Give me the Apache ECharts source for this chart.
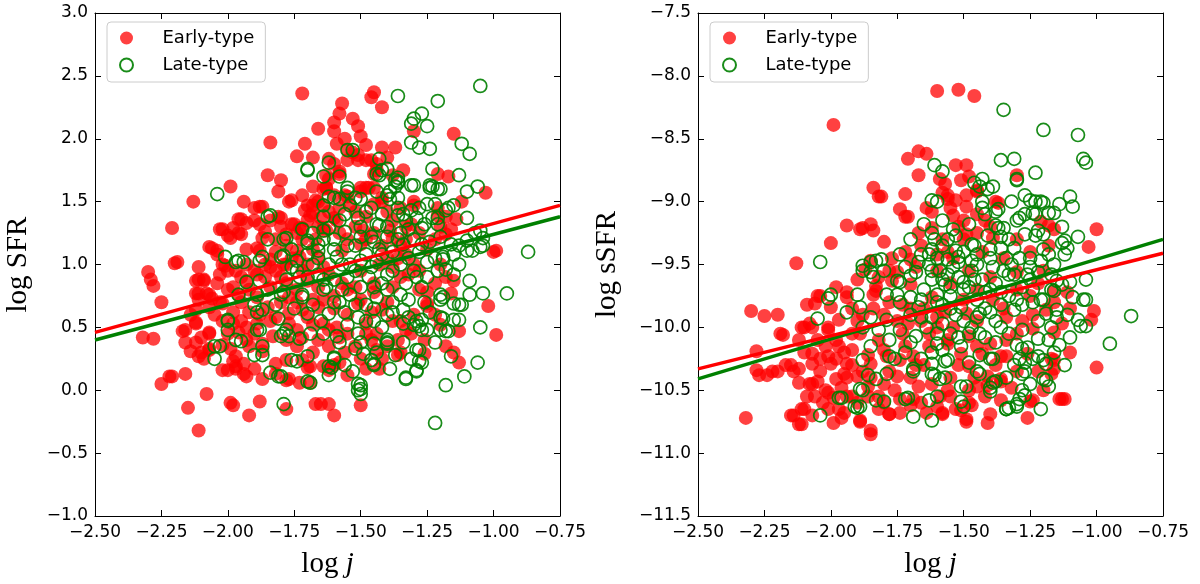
<!DOCTYPE html>
<html>
<head>
<meta charset="utf-8">
<script src="https://cdn.jsdelivr.net/npm/echarts@6/dist/echarts.min.js"></script>
<style>
html,body{margin:0;padding:0;background:#fff;}
#chart{width:1200px;height:584px;}
</style>
</head>
<body>
<div id="chart"></div>
<script>
// ---------- DATA ----------
const xTickMin = -2.5, xTickMax = -0.75, xTickStep = 0.25;
const sfrMin = -1.0, sfrMax = 3.0, ssfrMin = -11.5, ssfrMax = -7.5, yTickStep = 0.5;
const legendNames = ['Early-type', 'Late-type'];

// Left panel: log j vs log SFR
const sfrEarly = [
[-2.30,0.94],[-2.29,0.88],[-2.28,0.83],[-2.25,0.70],[-2.32,0.42],[-2.28,0.41],[-2.21,1.29],[-2.20,1.01],[-2.13,1.50],[-2.17,0.47],[-2.25,0.05],[-2.22,0.11],[-2.16,0.13],[-2.15,-0.14],[-2.11,-0.32],[-2.08,-0.03],[-1.99,-0.10],[-1.98,-0.12],[-1.92,-0.20],[-1.88,-0.09],[-1.78,-0.15],[-1.67,-0.11],[-1.62,-0.11],[-1.60,-0.20],[-1.50,-0.12],
[-1.72,2.36],[-1.45,2.37],[-1.46,2.33],[-1.42,2.25],[-1.57,2.28],[-1.58,2.20],[-1.60,2.13],[-1.53,2.16],[-1.51,2.10],[-1.50,2.02],[-1.66,2.08],[-1.84,1.97],[-1.71,1.96],[-1.59,1.96],[-1.74,1.86],[-1.68,1.85],[-1.42,1.93],[-1.37,1.93],[-1.46,1.83],[-1.30,2.06],[-1.15,2.04],[-1.21,1.72],[-1.17,1.70],[-1.12,1.50],[-1.03,1.57],[-1.00,1.10],[-0.99,1.11],[-1.02,0.67],[-0.99,0.44],[-1.13,0.47],[-1.15,0.30],[-1.13,0.22],[-1.16,0.77],[-1.15,0.87],[-1.26,0.29],[-1.31,0.45],[-1.25,0.67],[-1.35,0.30],[-1.43,0.17],[-1.48,0.17],[-1.55,0.12],[-1.62,0.16],[-1.60,0.20],[-1.70,0.18],[-1.73,0.06],[-1.78,0.08],[-1.87,0.09],[-1.93,0.11],[-2.00,0.16],[-1.97,0.17],[-2.07,0.33],[-2.10,0.30],[-2.09,0.25],[-2.07,0.46],[-2.12,0.53],[-2.12,0.38],[-2.12,0.77],[-2.11,0.88],[-2.09,0.88],[-2.08,0.77],[-2.06,0.73],[-2.03,0.70],[-2.07,1.14],[-2.04,1.11],[-2.01,0.99],[-2.00,0.95],[-2.03,1.28],[-1.98,1.29],[-1.99,1.21],[-1.96,1.36],[-1.96,1.25],[-1.94,1.50],[-1.90,1.45],[-1.87,1.46],[-1.99,1.62],[-1.85,1.71],[-1.80,1.67],[-1.81,1.58],[-1.77,1.50],[-1.81,1.38],[-1.86,1.26],[-1.84,1.35],[-1.93,1.33],[-1.89,1.13],[-1.70,1.47],[-1.74,1.25],[-1.75,1.32],[-1.68,1.41],[-1.67,1.51],[-1.64,1.60],[-1.62,1.68],[-1.58,1.72],[-1.56,1.55],[-1.50,1.58],[-1.47,1.61],[-1.45,1.72],[-1.44,1.80],[-1.51,1.83],[-1.53,1.89],
[-1.60,2.06],[-1.55,1.91],[-1.51,1.87],[-1.48,1.83],[-1.55,1.83],[-1.62,1.84],[-1.63,1.71],[-1.58,1.74],[-1.44,1.75],[-1.50,1.61],[-1.45,1.61],[-1.63,1.61],[-1.55,1.54],[-1.42,1.53],[-1.30,1.47],[-1.21,1.39],[-1.49,1.27],[-1.59,1.35],[-1.38,1.21],[-1.18,1.24],[-1.65,1.37],[-1.31,1.32],
[-1.95,1.36],[-1.88,1.32],[-2.02,1.28],[-2.00,1.23],[-1.95,1.24],[-2.06,1.13],[-2.04,1.08],[-1.93,1.12],[-1.88,1.11],[-2.19,1.02],[-1.71,1.43],[-1.66,1.50],[-1.69,1.39],[-1.64,1.47],[-1.76,1.32],[-1.72,1.29],[-1.64,1.29],[-2.02,1.00],[-1.97,0.95],[-1.93,1.00],[-1.84,0.98],[-1.79,1.00],[-1.74,1.11],[-1.66,1.06],[-1.72,0.95],
[-1.76,1.51],[-1.88,1.46],[-1.90,1.35],[-1.80,1.37],[-1.73,1.29],[-1.67,1.20],[-1.84,1.04],[-1.78,1.00],[-1.73,1.06],[-1.89,0.92],[-1.80,0.90],[-1.70,0.87],[-1.64,0.98],[-1.57,1.11],[-1.50,1.16],[-1.43,1.00],[-1.33,1.08],[-1.25,0.69],[-1.85,0.66],[-1.77,0.61],[-1.66,0.66],[-1.51,0.69],[-1.42,0.64],[-1.74,0.48],[-1.59,0.50],[-1.48,0.53],[-1.83,0.43],[-1.66,0.40],[-1.44,0.45],[-1.21,1.45],[-1.30,1.50],[-1.63,1.61],[-1.48,1.61],[-1.42,1.50],[-1.38,1.71],[-1.54,1.47],[-1.68,1.47],[-1.60,1.37],[-1.87,1.21],[-1.78,1.24],[-1.63,1.27],[-1.39,1.27],
[-2.16,0.48],[-2.12,0.54],[-2.07,0.45],[-2.21,0.11],[-2.12,0.87],[-2.09,0.87],[-2.11,0.77],[-2.07,0.76],[-2.11,0.72],[-2.14,0.31],[-2.11,0.27],[-2.07,0.32],[-2.02,0.16],[-1.97,0.19],[-1.94,0.13],[-1.90,0.17],[-1.87,0.31],[-1.82,0.13],[-1.77,0.09],[-1.69,0.19],[-1.98,0.23],[-1.94,0.21],[-1.93,0.50],[-2.00,0.45],[-2.02,0.36],[-1.99,0.33],[-1.97,0.27],[-1.92,0.35],[-1.87,0.37],[-1.82,0.21],[-1.78,0.24],[-1.74,0.35],[-1.72,0.24],[-1.64,0.19],[-1.69,0.06],[-1.98,0.53],[-1.93,0.40],[-1.89,0.53],[-1.82,0.58],[-1.77,0.53],[-1.70,0.58],[-1.64,0.53],[-2.12,0.64],[-2.07,0.66],[-2.02,0.69],[-1.98,0.82],[-1.93,0.87],[-1.89,0.74],[-1.84,0.82],[-1.77,0.74],[-1.72,0.64],[-1.64,0.72],[-2.11,0.98],
[-1.65,-0.11],[-1.36,0.28],
[-1.55,0.80],[-1.45,0.85],[-1.35,0.90],[-1.50,0.95],[-1.40,1.05],[-1.55,1.20],[-1.45,1.25],[-1.35,1.15],[-1.28,0.95],[-1.22,0.85],[-1.40,0.70],[-1.30,0.60],[-1.55,0.60],[-1.60,0.75],[-1.35,0.55],[-1.20,1.00],[-1.18,0.90],[-1.46,0.40],[-1.52,0.35],[-1.40,0.35],[-1.42,0.25],[-1.56,0.30],[-1.58,0.42],[-1.28,0.80],[-1.25,1.12],[-1.20,1.30],
[-2.05,0.60],[-2.02,0.55],[-1.98,0.62],[-1.95,0.70],[-1.92,0.62],[-1.95,0.55],[-1.90,0.45],[-1.96,0.46],[-2.04,0.85],[-2.00,0.80],[-1.96,0.76],[-1.92,0.80],[-1.90,0.95],[-1.95,0.90],[-2.03,0.92],[-1.86,0.90],[-1.82,0.95],[-1.86,1.00],[-1.82,1.10],[-1.78,1.15],[-1.76,1.05],[-1.70,1.00],[-1.68,1.12],[-1.72,1.20],[-1.82,1.20],[-1.80,1.30],[-1.70,1.35],[-1.66,1.30],[-1.62,1.42],[-1.58,1.45],[-1.60,1.55],[-1.52,1.42],[-1.48,1.38],[-1.45,1.48],[-1.40,1.42],[-1.35,1.45],[-1.33,1.30],[-1.38,1.35],[-1.58,1.25],[-1.52,1.30],[-1.48,1.20],[-1.42,1.15],[-1.36,1.05],[-1.30,1.00],[-1.32,0.92],[-1.38,0.82],[-1.45,0.78],[-1.50,0.72],[-1.46,0.62],[-1.38,0.55],[-1.33,0.48],[-1.36,0.40],[-1.48,0.45],[-1.55,0.45],[-1.62,0.48],[-1.68,0.52],[-1.72,0.42],[-1.78,0.40],[-1.62,0.35],[-1.68,0.30],[-1.58,0.22],[-1.50,0.25],[-1.44,0.32],[-1.66,0.82],[-1.62,0.92],[-1.57,0.85],[-1.52,0.82],[-1.74,0.80],[-1.78,0.85],[-1.80,0.70],[-1.74,0.70],[-1.68,0.72],[-1.60,0.65],[-1.84,0.55],[-1.88,0.60],[-1.25,0.78],[-1.22,1.20],[-1.28,1.25],[-1.33,1.20],[-1.18,1.38],[-1.16,1.28],[-1.14,1.36],[-1.22,0.60],[-1.20,0.52],[-1.26,0.40],[-1.18,0.35],[-1.38,0.98],[-2.14,0.60],[-2.10,0.42],[-2.16,0.38],[-1.68,1.62],[-1.72,1.55],[-1.60,1.80],[-1.56,2.00],[-1.48,1.95],[-1.40,1.85],[-1.34,1.75]
];
const sfrLate = [
[-1.05,2.42],[-1.36,2.34],[-1.21,2.30],[-1.27,2.20],[-1.30,2.16],[-1.31,2.12],[-1.25,2.10],[-1.31,1.97],[-1.28,1.93],[-1.24,1.92],[-1.12,1.96],[-1.09,1.88],[-1.23,1.76],[-1.13,1.71],[-1.31,1.63],[-1.23,1.62],[-1.21,1.60],[-1.06,1.62],[-1.10,1.58],[-1.10,1.37],[-1.17,1.45],[-1.25,1.48],[-1.05,1.27],[-1.07,1.25],[-1.05,1.14],[-0.87,1.10],[-0.95,0.77],[-1.04,0.77],[-1.05,0.50],[-1.06,0.22],[-1.11,0.11],[-1.18,0.04],[-1.22,-0.26],[-1.16,0.27],[-1.13,0.56],[-1.19,0.57],[-1.17,0.47],[-1.12,0.68],[-1.09,0.76],[-1.09,0.87],[-1.15,0.92],[-1.18,0.96],[-1.13,1.00],[-1.08,1.11],[-1.13,1.15],[-1.29,0.16],[-1.33,0.10],[-1.28,0.23],[-1.29,0.32],[-1.27,0.48],[-1.28,0.51],[-1.29,0.55],[-1.34,0.53],[-1.39,0.17],[-1.37,0.28],[-1.40,0.38],[-1.46,0.24],[-1.45,0.20],[-1.50,0.04],[-1.50,0.01],[-1.50,-0.03],[-1.52,0.33],[-1.62,0.12],[-1.61,0.18],[-1.60,0.25],[-1.70,0.07],[-1.76,0.24],[-1.81,0.11],[-1.84,0.14],[-1.79,-0.11],[-2.05,0.25],[-2.05,0.35],[-1.97,0.40],[-2.00,0.55],[-2.00,0.48],[-2.04,1.56],[-2.01,1.06],[-1.96,1.03],[-1.94,1.02],[-1.85,1.38],[-1.85,1.20],[-1.79,1.20],[-1.80,1.06],[-1.70,1.75],[-1.62,1.81],[-1.64,1.70],[-1.58,1.70],[-1.55,1.91],[-1.43,1.84],[-1.42,1.75],[-1.44,1.72],[-1.37,1.67],[-1.37,1.62],[-1.39,1.52],[-1.52,1.53],[-1.55,1.58],[-1.62,1.54],[-1.64,1.47],
[-1.43,1.71],[-1.40,1.76],[-1.36,1.69],[-1.36,1.65],[-1.30,1.63],[-1.24,1.63],[-1.20,1.60],[-1.15,1.47],[-1.04,1.15],[-1.04,1.21],[-1.10,1.19],[-1.23,1.37],[-1.21,1.32],[-1.27,1.29],[-1.33,1.35],[-1.43,1.31],[-1.46,1.45],[-1.54,1.47],[-1.36,1.53],[-1.39,1.58],[-1.31,1.43],[-1.18,1.43],[-1.15,1.08],[-1.10,1.11],[-1.19,1.04],[-1.53,1.91],
[-1.70,1.76],[-1.78,1.21],[-1.97,1.02],[-1.87,1.06],[-1.74,1.03],[-1.70,1.19],[-1.64,1.27],[-1.66,1.16],
[-1.84,1.39],[-1.70,1.17],[-1.62,1.29],[-1.58,1.35],[-1.51,1.37],[-1.44,1.32],[-1.36,1.39],[-1.29,1.37],[-1.21,1.37],[-1.24,1.61],[-1.36,1.66],[-1.40,1.55],[-1.55,1.61],[-1.60,1.53],[-1.66,1.11],[-1.59,1.06],[-1.50,1.03],[-1.42,1.08],[-1.34,1.16],[-1.27,1.16],[-1.19,1.06],[-1.88,1.03],[-1.79,1.07],[-1.76,0.98],[-1.66,0.92],[-1.55,0.90],[-1.47,0.90],[-1.38,0.95],[-1.29,0.90],[-1.21,0.95],[-1.89,0.76],[-1.80,0.76],[-1.72,0.76],[-1.63,0.82],[-1.54,0.76],[-1.44,0.74],[-1.35,0.76],[-1.27,0.82],[-1.19,0.74],[-1.87,0.64],[-1.70,0.61],[-1.62,0.61],[-1.51,0.58],[-1.34,0.64],[-1.88,0.48],[-1.79,0.45],[-1.69,0.45],[-1.59,0.43],[-1.51,0.45],[-1.40,0.40],[-1.20,0.48],
[-2.03,0.35],[-1.95,0.39],[-1.89,0.48],[-1.87,0.35],[-1.90,0.28],[-1.87,0.28],[-1.80,0.43],[-1.78,0.48],[-1.77,0.43],[-1.73,0.41],[-1.74,0.23],[-1.70,0.27],[-1.80,0.11],[-1.69,0.06],[-1.81,0.57],[-1.89,0.62],[-2.00,0.56],[-1.88,0.87],[-1.79,0.78],[-1.72,0.74],[-1.64,0.80],
[-1.13,0.68],[-1.20,0.58],[-1.15,0.56],[-1.18,0.47],[-1.28,0.32],[-1.27,0.22],[-1.33,0.09],[-1.29,0.15],[-1.51,0.05],[-1.51,0.00],[-1.45,0.37],[-1.40,0.37],[-1.60,0.26],[-1.62,0.19],[-1.53,0.15],[-1.45,0.21],[-1.49,0.29],[-1.38,0.70],[-1.30,0.52],[-1.27,0.56],[-1.25,0.48],[-1.20,0.72],[-1.15,0.69],[-1.20,0.76],
[-1.60,1.20],[-1.55,1.15],[-1.50,1.22],[-1.45,1.18],[-1.40,1.22],[-1.35,1.25],[-1.30,1.20],[-1.57,1.00],[-1.52,0.95],[-1.48,1.08],[-1.44,1.02],[-1.38,1.10],[-1.32,1.05],[-1.25,1.02],[-1.60,0.88],[-1.42,0.85],[-1.33,0.85],[-1.25,0.90],[-1.68,1.00],[-1.73,0.90],[-1.58,0.70],[-1.48,0.68],[-1.40,0.60],[-1.55,0.52],[-1.65,0.55],[-1.45,0.55],
[-1.68,1.25],[-1.64,1.20],[-1.60,1.12],[-1.56,1.26],[-1.52,1.15],[-1.50,1.30],[-1.46,1.22],[-1.43,1.12],[-1.40,1.30],[-1.36,1.20],[-1.32,1.28],[-1.28,1.10],[-1.24,1.18],[-1.26,1.32],[-1.34,1.40],[-1.42,1.40],[-1.48,1.42],[-1.56,1.40],[-1.64,1.38],[-1.66,1.05],[-1.62,1.00],[-1.54,1.00],[-1.46,0.98],[-1.40,0.92],[-1.35,1.00],[-1.30,0.95],[-1.22,1.05],[-1.70,0.90],[-1.64,0.88],[-1.57,0.80],[-1.50,0.82],[-1.45,0.82],[-1.40,0.80],[-1.32,0.72],[-1.26,0.70],[-1.60,0.70],[-1.52,0.68],[-1.45,0.65],[-1.38,0.62],[-1.68,0.68],[-1.75,0.65],[-1.82,0.68],[-1.85,0.80],[-1.78,0.88],[-1.74,0.95],[-1.70,1.08],[-1.76,1.12],[-1.72,1.28],[-1.58,1.52],[-1.50,1.52],[-1.44,1.58],[-1.36,1.45],[-1.28,1.45],[-1.22,1.48],[-1.20,1.22],[-1.16,1.16],[-1.24,0.62],[-1.32,0.58],[-1.42,0.50],[-1.48,0.55],[-1.56,0.62],[-1.64,0.45],[-1.58,0.38],[-1.50,0.38],[-1.44,0.30],[-1.56,0.20],[-1.34,0.38],[-1.22,0.38],[-1.31,0.25],[-1.93,0.86],[-1.96,0.76],[-1.90,0.68]
];

// Right panel: log j vs log sSFR
const ssfrEarly = [
[-2.32,-10.72],[-2.30,-9.87],[-2.25,-9.91],[-2.20,-9.90],[-2.18,-10.06],[-2.28,-10.19],[-2.28,-10.34],[-2.27,-10.38],[-2.24,-10.38],[-2.20,-10.35],[-2.15,-10.30],[-2.14,-10.35],[-2.13,-9.49],[-2.10,-10.00],[-2.08,-9.97],[-2.06,-9.81],[-2.04,-9.75],[-2.00,-9.33],[-1.99,-8.39],[-2.14,-10.70],[-2.11,-10.77],[-2.10,-10.65],[-2.08,-10.45],[-2.05,-10.43],[-2.01,-10.65],[-1.99,-10.76],[-1.95,-10.68],[-1.94,-9.19],[-1.89,-9.22],[-1.85,-9.18],[-1.84,-9.23],[-1.84,-8.89],[-1.82,-8.96],[-1.74,-9.06],[-1.72,-9.12],[-1.72,-8.94],[-1.71,-8.66],[-1.67,-8.60],[-1.64,-8.62],[-1.67,-8.79],[-1.60,-8.12],[-1.52,-8.11],[-1.46,-8.16],[-1.53,-8.71],[-1.49,-8.71],[-1.51,-8.83],[-1.59,-8.82],[-1.57,-8.86],[-1.58,-8.93],[-1.56,-8.98],[-1.53,-8.99],[-1.49,-8.95],[-1.45,-8.91],[-1.37,-9.01],[-1.45,-9.10],[-1.30,-8.79],[-1.21,-9.16],[-1.18,-9.19],[-1.16,-9.22],[-1.00,-9.22],[-1.03,-9.36],[-1.01,-9.87],[-1.02,-9.94],[-1.00,-10.32],[-1.13,-10.57],[-1.14,-10.57],[-1.16,-10.33],[-1.17,-10.25],[-1.26,-10.72],[-1.24,-10.58],[-1.26,-10.21],[-1.41,-10.76],[-1.40,-10.69],[-1.41,-10.46],[-1.47,-10.62],[-1.51,-10.66],[-1.49,-10.75],[-1.55,-10.55],[-1.60,-10.63],[-1.58,-10.69],[-1.70,-10.62],[-1.74,-10.57],[-1.78,-10.69],[-1.80,-10.60],[-1.85,-10.85],[-1.89,-10.75],[-1.92,-10.55],[-1.95,-10.37],
[-2.09,-9.82],[-2.05,-9.75],[-2.11,-10.00],[-2.07,-10.00],[-2.01,-10.00],[-2.19,-10.05],[-2.12,-10.33],[-2.12,-10.44],[-2.07,-10.45],[-2.07,-10.29],[-2.07,-10.21],[-2.01,-10.23],[-2.15,-10.70],[-2.11,-10.65],[-2.12,-10.77],[-2.07,-10.70],[-2.03,-10.60],[-1.99,-10.56],[-2.17,-10.30],[-2.22,-10.35],
[-1.88,-9.21],[-1.80,-9.32],[-1.77,-9.45],[-1.85,-9.47],[-1.87,-9.54],[-1.70,-9.46],[-1.68,-9.52],[-1.75,-9.56],[-1.83,-9.67],[-1.94,-9.72],[-1.67,-9.25],[-1.62,-9.21],[-1.62,-9.08],[-1.49,-9.04],[-1.45,-8.92],[-1.38,-9.00],[-1.39,-9.29],[-1.54,-9.45],[-1.60,-9.42],[-1.48,-9.55],[-1.77,-9.63],[-1.70,-9.66],[-1.83,-9.71],[-1.54,-9.11],[-1.50,-9.15],[-1.49,-9.26],[-1.71,-9.12],[-1.81,-8.96],[-1.56,-8.95],
[-2.00,-9.84],[-1.97,-9.94],[-2.01,-10.02],[-1.97,-10.15],[-2.00,-10.29],[-1.94,-10.29],[-1.98,-10.41],[-1.90,-10.39],[-2.01,-10.52],[-1.94,-10.55],[-1.97,-10.65],[-1.89,-10.74],[-1.85,-10.82],[-1.78,-10.69],[-1.86,-10.47],[-1.82,-10.55],[-1.75,-10.39],[-1.74,-10.26],[-1.79,-10.23],[-1.69,-10.23],[-1.63,-10.15],[-1.56,-10.13],[-1.67,-10.47],[-1.69,-10.57],[-1.59,-10.55],[-1.58,-10.68],[-1.53,-10.65],[-1.49,-10.73],[-1.48,-10.60],[-1.45,-10.47],[-1.41,-10.39],[-1.36,-10.41],[-1.48,-10.31],[-1.51,-10.21],[-1.43,-10.21],[-1.36,-10.23],[-1.40,-10.13],[-1.34,-10.10],[-1.48,-10.07],[-1.54,-10.00],[-1.63,-10.05],[-1.73,-10.05],[-1.82,-10.10],[-1.89,-10.05],[-1.92,-10.18],[-1.85,-10.29],[-1.71,-9.97],[-1.60,-9.92],[-1.49,-9.89],[-1.34,-9.92],[-1.94,-9.76],[-1.84,-9.74],[-1.73,-9.82],[-1.62,-9.76],[-1.50,-9.78],[-1.39,-9.78],
[-1.30,-9.56],[-1.16,-9.71],[-1.11,-9.72],[-1.19,-9.86],[-1.24,-10.01],[-1.13,-9.97],[-1.16,-10.04],[-1.16,-10.26],[-1.17,-10.37],[-1.30,-10.35],[-1.36,-10.43],[-1.34,-10.23],[-1.25,-10.59],[-1.12,-10.57],
[-1.55,-9.65],[-1.45,-9.70],[-1.40,-9.60],[-1.65,-9.85],[-1.57,-9.88],[-1.45,-9.95],[-1.35,-9.85],[-1.30,-9.70],[-1.25,-9.75],[-1.80,-9.90],[-1.75,-9.95],[-1.90,-9.95],[-1.65,-10.30],[-1.55,-10.40],[-1.45,-10.15],[-1.30,-10.05],[-1.28,-9.95],[-1.22,-9.65],[-1.60,-9.55],[-1.50,-9.30],[-1.43,-9.40],[-1.35,-9.45],
[-2.05,-10.10],[-2.02,-10.15],[-1.98,-10.25],[-1.95,-10.20],[-1.92,-10.30],[-1.88,-10.35],[-1.85,-10.40],[-1.80,-10.45],[-1.78,-10.35],[-1.76,-10.50],[-1.70,-10.40],[-1.68,-10.30],[-1.72,-10.15],[-1.80,-10.18],[-1.86,-10.22],[-1.94,-10.40],[-1.96,-10.48],[-2.04,-10.35],[-2.02,-10.50],[-2.06,-10.55],[-2.09,-10.55],[-2.04,-10.25],[-2.10,-10.20],[-2.12,-10.10],[-1.98,-10.10],[-1.92,-10.05],[-1.88,-9.90],[-1.84,-9.85],[-1.78,-9.80],[-1.70,-9.85],[-1.66,-9.95],[-1.60,-10.00],[-1.56,-10.10],[-1.52,-10.30],[-1.46,-10.40],[-1.42,-10.55],[-1.48,-10.50],[-1.56,-10.50],[-1.62,-10.45],[-1.66,-10.60],[-1.74,-10.68],[-1.82,-10.65],[-1.90,-10.60],[-1.96,-10.72],[-1.86,-10.55],[-1.64,-10.68],[-1.38,-10.30],[-1.32,-10.48],[-1.36,-10.58],[-1.20,-10.50],[-1.22,-10.35],[-1.10,-10.20],[-1.10,-9.85],[-1.16,-9.80],[-1.24,-9.90],[-1.20,-9.55],[-1.25,-9.40],[-1.30,-9.30],[-1.18,-9.35],[-1.40,-9.20],[-1.45,-9.25],[-1.52,-9.20],[-1.58,-9.30],[-1.66,-9.35],[-1.72,-9.40],[-1.78,-9.55],[-1.82,-9.60],[-1.90,-9.62],[-1.98,-9.68],[-1.92,-9.85],[-1.64,-9.05],[-1.55,-9.05],[-1.48,-8.80],[-1.42,-9.15],[-1.56,-9.40]
];
const ssfrLate = [
[-1.35,-8.27],[-1.20,-8.43],[-1.07,-8.47],[-1.05,-8.66],[-1.04,-8.69],[-1.36,-8.67],[-1.31,-8.66],[-1.23,-8.77],[-1.30,-8.83],[-1.61,-8.71],[-1.58,-8.76],[-1.46,-8.85],[-1.44,-8.88],[-1.41,-8.90],[-1.27,-8.95],[-1.23,-9.00],[-1.20,-9.01],[-1.14,-9.02],[-1.10,-8.96],[-1.09,-9.04],[-1.18,-9.09],[-1.23,-9.10],[-1.30,-9.15],[-1.29,-9.13],[-1.20,-9.26],[-1.13,-9.20],[-1.07,-9.28],[-1.13,-9.33],[-1.11,-9.37],[-1.12,-9.42],[-1.04,-9.62],[-1.05,-9.78],[-1.09,-9.76],[-0.87,-9.91],[-0.95,-10.13],[-1.07,-9.94],[-1.06,-9.99],[-1.10,-10.08],[-1.14,-10.14],[-1.18,-10.10],[-1.15,-9.92],[-1.19,-9.89],[-1.20,-9.78],[-1.17,-9.70],[-1.15,-9.63],[-1.22,-10.23],[-1.20,-10.26],[-1.19,-10.42],[-1.18,-10.47],[-1.21,-10.65],[-1.30,-10.63],[-1.34,-10.65],[-1.27,-10.54],[-1.28,-10.50],[-1.31,-10.30],[-1.27,-10.35],[-1.30,-10.14],[-1.26,-10.16],[-1.27,-10.28],[-1.40,-10.48],[-1.38,-10.43],[-1.39,-10.25],[-1.44,-10.37],[-1.49,-10.47],[-1.50,-10.63],[-1.62,-10.74],[-1.63,-10.58],[-1.69,-10.71],[-1.69,-10.35],[-1.57,-10.27],[-1.57,-10.40],[-1.61,-10.38],[-1.72,-10.57],[-1.83,-10.58],[-1.86,-10.38],[-1.88,-10.50],[-1.90,-10.64],[-1.91,-10.63],[-1.96,-10.56],[-2.04,-10.70],[-2.05,-9.93],[-2.01,-9.77],[-2.04,-9.48],[-1.88,-9.55],[-1.88,-9.51],[-1.83,-9.47],[-1.75,-9.63],[-1.68,-9.56],[-1.66,-9.42],[-1.65,-9.18],[-1.60,-9.00],[-1.61,-9.30],[-1.58,-9.35],[-1.52,-9.44],[-1.46,-9.35],[-1.43,-9.05],[-1.37,-9.06],[-1.37,-9.21],[-1.36,-9.28],
[-1.62,-8.99],[-1.58,-9.15],[-1.62,-9.25],[-1.54,-9.22],[-1.53,-9.27],[-1.47,-9.34],[-1.43,-8.82],[-1.39,-8.88],[-1.43,-9.00],[-1.38,-9.08],[-1.38,-9.19],[-1.41,-9.27],[-1.36,-9.37],[-1.30,-8.82],[-1.53,-9.39],[-1.63,-9.42],[-1.85,-9.48],[-1.85,-9.56],[-1.81,-9.46],[-1.74,-9.64],[-1.70,-9.59],[-2.00,-9.74],[-1.90,-9.74],[-1.75,-9.74],[-1.63,-9.50],[-1.59,-9.55],[-1.54,-9.52],[-1.47,-9.47],[-1.39,-9.52],[-1.34,-9.45],[-1.31,-9.58],
[-1.89,-9.84],[-1.85,-9.92],[-1.79,-9.94],[-1.74,-10.02],[-1.68,-10.07],[-1.60,-10.13],[-1.51,-10.15],[-1.44,-10.22],[-1.40,-10.25],[-1.56,-10.26],[-1.62,-10.29],[-1.69,-10.33],[-1.79,-10.37],[-1.83,-10.41],[-1.88,-10.26],[-1.78,-10.23],[-1.89,-10.49],[-1.97,-10.56],[-1.89,-10.63],[-1.80,-10.59],[-1.71,-10.56],[-1.60,-10.55],[-1.62,-10.37],[-1.59,-10.41],[-1.51,-10.47],[-1.51,-10.59],[-1.40,-10.51],[-1.39,-10.44],[-1.45,-10.35],[-1.34,-10.65],[-1.30,-10.61],[-1.58,-9.97],[-1.67,-9.84],[-1.79,-9.74],[-1.70,-9.76],[-1.60,-9.74],[-1.51,-9.84],[-1.44,-9.89],[-1.36,-9.82],[-1.31,-9.86],[-1.36,-10.00],[-1.47,-10.00],
[-1.25,-8.99],[-1.21,-9.00],[-1.24,-9.09],[-1.16,-9.09],[-1.35,-9.21],[-1.27,-9.26],[-1.23,-9.27],[-1.22,-9.23],[-1.12,-9.31],[-1.18,-9.42],[-1.16,-9.50],[-1.21,-9.47],[-1.25,-9.45],[-1.31,-9.37],[-1.29,-9.45],[-1.33,-9.58],[-1.26,-9.58],[-1.22,-9.56],[-1.10,-9.64],[-1.13,-9.66],[-1.16,-9.71],[-1.21,-9.78],[-1.24,-9.80],[-1.04,-9.78],[-1.11,-9.90],[-1.15,-9.86],[-1.04,-9.99],[-1.22,-10.09],[-1.28,-10.02],[-1.28,-10.17],[-1.29,-10.25],[-1.24,-10.25],[-1.19,-10.29],[-1.28,-10.37],[-1.20,-10.41],[-1.29,-10.57],[-1.33,-10.64],
[-1.62,-9.62],[-1.57,-9.66],[-1.52,-9.60],[-1.48,-9.68],[-1.43,-9.62],[-1.40,-9.70],[-1.55,-9.75],[-1.50,-9.70],[-1.45,-9.78],[-1.65,-9.70],[-1.58,-9.82],[-1.53,-9.90],[-1.42,-9.85],[-1.62,-9.92],[-1.56,-9.58],[-1.47,-9.55],[-1.40,-9.45],[-1.66,-9.78],[-1.48,-10.05],[-1.55,-10.05],[-1.42,-10.08],[-1.64,-10.00],[-1.38,-9.95],[-1.33,-9.75],[-1.28,-9.68],[-1.45,-9.50],[-1.52,-9.48],[-1.60,-9.45],[-1.70,-9.90],[-1.78,-10.10],[-1.85,-10.15],[-1.72,-10.20],[-1.62,-10.20],
[-1.62,-9.55],[-1.58,-9.62],[-1.55,-9.68],[-1.50,-9.64],[-1.46,-9.62],[-1.42,-9.72],[-1.38,-9.65],[-1.35,-9.55],[-1.60,-9.80],[-1.55,-9.85],[-1.50,-9.95],[-1.45,-9.92],[-1.40,-9.88],[-1.36,-9.72],[-1.30,-9.78],[-1.28,-9.82],[-1.25,-9.62],[-1.25,-9.52],[-1.32,-9.50],[-1.40,-9.38],[-1.45,-9.42],[-1.50,-9.40],[-1.56,-9.46],[-1.62,-9.38],[-1.67,-9.48],[-1.72,-9.52],[-1.74,-9.80],[-1.66,-9.92],[-1.60,-10.05],[-1.52,-10.08],[-1.44,-10.05],[-1.38,-10.12],[-1.33,-10.05],[-1.70,-10.12],[-1.76,-10.25],[-1.66,-10.25],[-1.58,-10.18],[-1.48,-10.28],[-1.34,-10.40],[-1.25,-10.45],[-1.82,-10.02],[-1.88,-10.00],[-1.94,-9.88],[-1.56,-9.30],[-1.48,-9.18],[-1.42,-9.10],[-1.32,-9.00],[-1.27,-9.10],[-1.33,-9.30],[-1.20,-9.38],[-1.17,-9.58],[-1.24,-9.70],[-1.22,-9.95],[-1.17,-10.00],[-1.12,-10.30],[-1.16,-10.20],[-1.70,-9.30],[-1.74,-9.42],[-1.80,-9.55],[-1.84,-9.60]
];

// Linear fits (endpoints at axis limits)
const fitX = [-2.5, -0.75];
const sfrFitEarly = [0.46, 1.47];
const sfrFitLate = [0.40, 1.38];
const ssfrFitEarly = [-10.33, -9.41];
const ssfrFitLate = [-10.41, -9.30];

// ---------- CHART ----------
const TICK_FONT = 'DejaVu Sans';
const SERIF = 'Liberation Serif';
const RED = 'rgba(255,0,0,0.93)';
const GREEN = '#008000';
const fmtX = v => v.toFixed(2).replace('-', '\u2212');
const fmtY = v => v.toFixed(1).replace('-', '\u2212');
const pairs = (xs, ys) => xs.map((x, i) => [x, ys[i]]);

function xAx(grid, bottom, withName) {
  return {
    gridIndex: grid, type: 'value', min: xTickMin, max: xTickMax, interval: xTickStep,
    position: bottom ? 'bottom' : 'top',
    axisLine: { show: true, onZero: false, lineStyle: { color: '#000', width: 1 } },
    axisTick: { show: true, inside: true, length: 6, lineStyle: { color: '#000', width: 1 } },
    axisLabel: { show: bottom, formatter: fmtX, color: '#000', fontSize: 17, fontFamily: TICK_FONT, margin: 8 },
    splitLine: { show: false },
    name: withName ? '{a|log }{b|j}' : '',
    nameLocation: 'middle', nameGap: 34,
    nameTextStyle: { rich: {
      a: { fontFamily: SERIF, fontSize: 29, color: '#000' },
      b: { fontFamily: SERIF, fontSize: 29, fontStyle: 'italic', color: '#000' }
    } }
  };
}
function yAx(grid, left, min, max, name, gap) {
  return {
    gridIndex: grid, type: 'value', min: min, max: max, interval: yTickStep,
    position: left ? 'left' : 'right',
    axisLine: { show: true, onZero: false, lineStyle: { color: '#000', width: 1 } },
    axisTick: { show: true, inside: true, length: 6, lineStyle: { color: '#000', width: 1 } },
    axisLabel: { show: left, formatter: fmtY, color: '#000', fontSize: 17, fontFamily: TICK_FONT, margin: 7 },
    splitLine: { show: false },
    name: left ? name : '',
    nameLocation: 'middle', nameGap: gap, nameRotate: 90,
    nameTextStyle: { fontFamily: SERIF, fontSize: 29, color: '#000' }
  };
}
function legendAt(left) {
  return {
    data: legendNames, orient: 'vertical', left: left, top: 22,
    padding: [7, 11, 8, 12], itemGap: 9, itemWidth: 26, itemHeight: 13,
    borderColor: '#cccccc', borderWidth: 1, borderRadius: 4, backgroundColor: 'rgba(255,255,255,0.8)',
    selectedMode: false,
    formatter: '{t|{name}}',
    textStyle: { rich: { t: { fontFamily: TICK_FONT, fontSize: 18, color: '#000', padding: [0, 0, 0, 18], lineHeight: 18 } } }
  };
}
function scatter(name, data, xi, early) {
  return {
    type: 'scatter', name: name, xAxisIndex: xi, yAxisIndex: xi, data: data,
    symbol: 'circle', symbolSize: early ? 14 : 13, z: early ? 2 : 3,
    itemStyle: early ? { color: RED, borderWidth: 0 }
                     : { color: 'rgba(0,0,0,0)', borderColor: GREEN, borderWidth: 1.7, opacity: 0.9 },
    emphasis: { disabled: true }, silent: true
  };
}
function fitLine(name, ys, xi, color, z) {
  return {
    type: 'line', name: name, xAxisIndex: xi, yAxisIndex: xi, data: pairs(fitX, ys),
    symbol: 'none', lineStyle: { color: color, width: 3.5 }, itemStyle: { color: color },
    z: z, silent: true, clip: true
  };
}

const chart = echarts.init(document.getElementById('chart'), null, { renderer: 'canvas' });
chart.setOption({
  animation: false,
  backgroundColor: '#fff',
  grid: [
    { left: 95, top: 13, width: 465, height: 508 },
    { left: 698, top: 13, width: 465, height: 508 }
  ],
  legend: [legendAt(107), legendAt(710)],
  xAxis: [xAx(0, true, true), xAx(0, false, false), xAx(1, true, true), xAx(1, false, false)],
  yAxis: [
    yAx(0, true, sfrMin, sfrMax, 'log SFR', 62), yAx(0, false, sfrMin, sfrMax, '', 0),
    yAx(1, true, ssfrMin, ssfrMax, 'log sSFR', 76), yAx(1, false, ssfrMin, ssfrMax, '', 0)
  ],
  series: [
    scatter('Early-type', sfrEarly, 0, true),
    scatter('Late-type', sfrLate, 0, false),
    fitLine('fitE1', sfrFitEarly, 0, '#ff0000', 5),
    fitLine('fitL1', sfrFitLate, 0, GREEN, 4),
    scatter('Early-type', ssfrEarly, 2, true),
    scatter('Late-type', ssfrLate, 2, false),
    fitLine('fitE2', ssfrFitEarly, 2, '#ff0000', 5),
    fitLine('fitL2', ssfrFitLate, 2, GREEN, 4)
  ]
});
</script>
</body>
</html>
